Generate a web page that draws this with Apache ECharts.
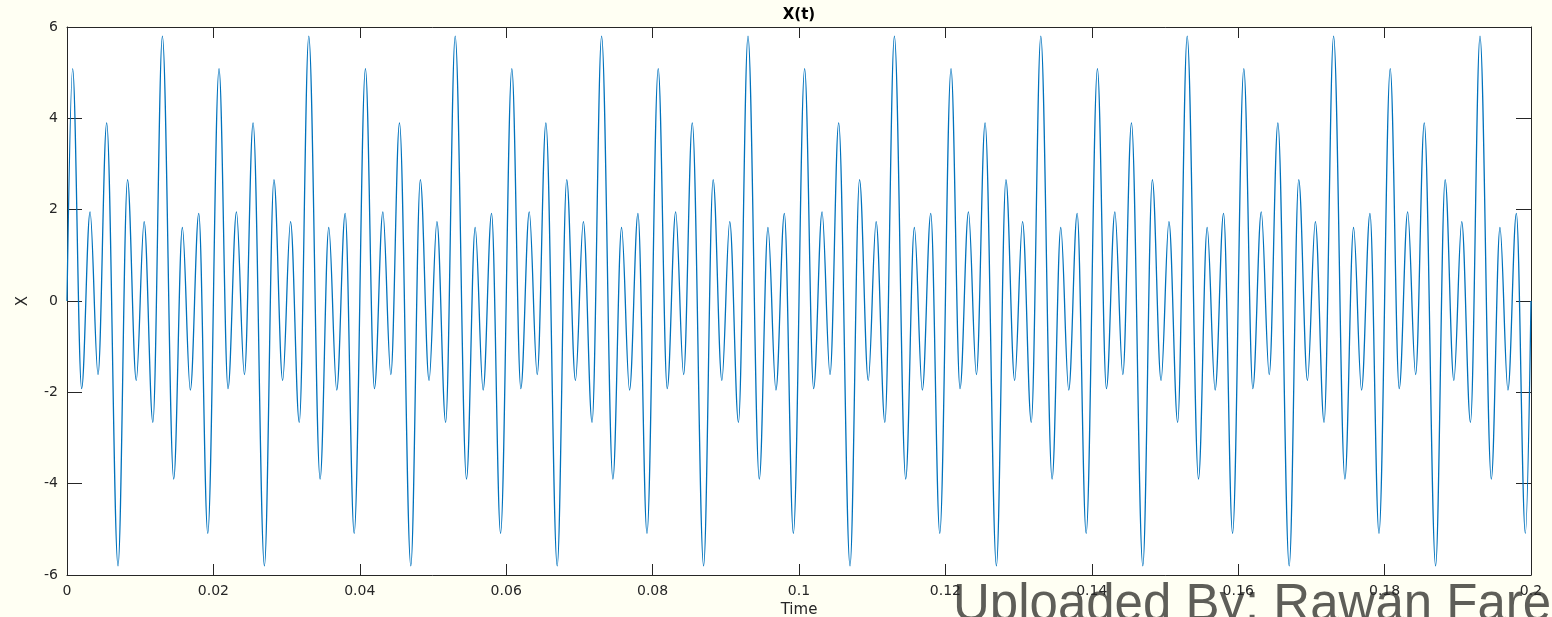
<!DOCTYPE html>
<html>
<head>
<meta charset="utf-8">
<script src="https://cdn.jsdelivr.net/npm/echarts@6/dist/echarts.min.js"></script>
<style>
  html, body { margin: 0; padding: 0; background: #fffff3; }
  #main { width: 1552px; height: 617px; }
</style>
</head>
<body>
<div id="main"></div>
<script>
// one 0.02 s period of X(t): peaks and troughs (the plot repeats it 10 times)
var periodTimes = [0.00077, 0.00200, 0.00315, 0.00424, 0.00542, 0.00697, 0.00827, 0.00946,
                   0.01054, 0.01173, 0.01303, 0.01458, 0.01576, 0.01685, 0.01800, 0.01923];
var periodValues = [5.09, -1.92, 1.95, -1.61, 3.90, -5.80, 2.66, -1.74,
                    1.74, -2.66, 5.80, -3.90, 1.61, -1.95, 1.92, -5.09];
var periodLength = 0.02;
var periodCount = 10;
var startPoint = [0, 0];
var endPoint = [0.2, 0];

var xMin = 0, xMax = 0.2, xStep = 0.02;
var yMin = -6, yMax = 6, yStep = 2;

var signal = [startPoint];
for (var k = 0; k < periodCount; k++) {
  for (var i = 0; i < periodTimes.length; i++) {
    signal.push([k * periodLength + periodTimes[i], periodValues[i]]);
  }
}
signal.push(endPoint);

var axisColor = '#262626';
var font = 'DejaVu Sans';

function tickFmt(v) { return String(+v.toFixed(2)); }

const myChart = echarts.init(document.getElementById('main'), null, { renderer: 'canvas' });
myChart.setOption({
  backgroundColor: '#fffff3',
  animation: false,
  grid: {
    left: 67, right: 21, top: 27, bottom: 42,
    show: true, backgroundColor: '#ffffff', borderWidth: 0,
    outerBoundsMode: 'none'
  },
  xAxis: [
    {
      type: 'value', min: xMin, max: xMax, interval: xStep,
      name: 'Time', nameLocation: 'middle', nameGap: 27,
      nameTextStyle: { color: axisColor, fontFamily: font, fontSize: 15 },
      axisLine: { show: true, onZero: false, lineStyle: { color: axisColor, width: 1 } },
      axisTick: { show: true, inside: true, length: 11, lineStyle: { color: axisColor } },
      axisLabel: { color: axisColor, fontFamily: font, fontSize: 14, margin: 9, formatter: tickFmt },
      splitLine: { show: false }
    },
    {
      type: 'value', min: xMin, max: xMax, interval: xStep, position: 'top',
      name: 'X(t)', nameLocation: 'middle', nameGap: 4,
      nameTextStyle: { color: '#000', fontFamily: font, fontSize: 15, fontWeight: 'bold', verticalAlign: 'bottom' },
      axisLine: { show: true, onZero: false, lineStyle: { color: axisColor, width: 1 } },
      axisTick: { show: true, inside: true, length: 11, lineStyle: { color: axisColor } },
      axisLabel: { show: false },
      splitLine: { show: false }
    }
  ],
  yAxis: [
    {
      type: 'value', min: yMin, max: yMax, interval: yStep,
      name: 'X', nameLocation: 'middle', nameGap: 36,
      nameTextStyle: { color: axisColor, fontFamily: font, fontSize: 15 },
      axisLine: { show: true, onZero: false, lineStyle: { color: axisColor, width: 1 } },
      axisTick: { show: true, inside: true, length: 15, lineStyle: { color: axisColor } },
      axisLabel: { color: axisColor, fontFamily: font, fontSize: 14, margin: 9 },
      splitLine: { show: false }
    },
    {
      type: 'value', min: yMin, max: yMax, interval: yStep, position: 'right',
      axisLine: { show: true, onZero: false, lineStyle: { color: axisColor, width: 1 } },
      axisTick: { show: true, inside: true, length: 15, lineStyle: { color: axisColor } },
      axisLabel: { show: false },
      splitLine: { show: false }
    }
  ],
  series: [
    {
      name: 'X(t)',
      type: 'line',
      data: signal,
      xAxisIndex: 0,
      yAxisIndex: 0,
      showSymbol: false,
      smooth: 0.36,
      smoothMonotone: 'x',
      lineStyle: { color: '#0072BD', width: 1.3 },
      itemStyle: { color: '#0072BD' },
      z: 3
    }
  ],
  graphic: [
    {
      type: 'text',
      left: 953,
      top: 580,
      z: -10,
      silent: true,
      style: {
        text: 'Uploaded By: Rawan Fare',
        fontFamily: 'Liberation Sans',
        fontSize: 51,
        fill: '#5e5e58'
      }
    }
  ]
});
</script>
</body>
</html>
